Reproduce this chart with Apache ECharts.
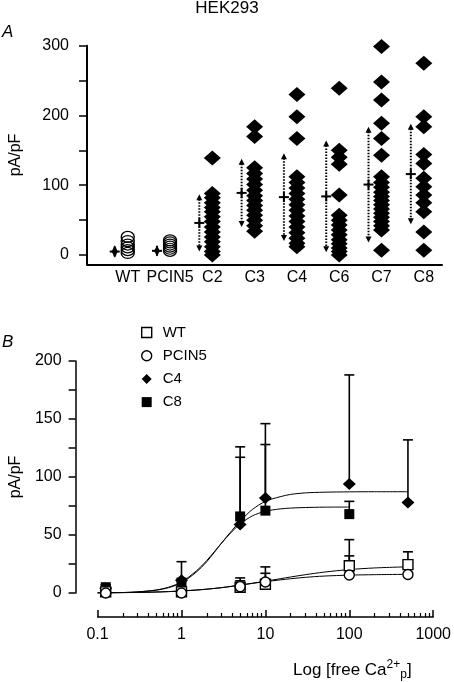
<!DOCTYPE html>
<html><head><meta charset="utf-8">
<script src="https://cdn.jsdelivr.net/npm/echarts@6/dist/echarts.min.js"></script>
<style>html,body{margin:0;padding:0;background:#fff}#c{width:454px;height:682px}</style>
</head><body><div id="c"></div>
<script>
// ---------- Panel A data ----------
const categories = ['WT','PCIN5','C2','C3','C4','C6','C7','C8'];
const valsWT    = [3, 7, 11, 15, 20, 26];
const valsPCIN5 = [6, 9, 12, 15, 18, 21];
const valsC2 = [139, 88, 82, 75, 68, 62, 55, 48, 40, 33, 26, 19, 12, 5, 0];
const valsC3 = [184, 170, 125, 117, 109, 101, 93, 85, 78, 71, 64, 57, 50, 42, 34];
const valsC4 = [230, 198, 167, 112, 104, 96, 88, 80, 72, 64, 56, 48, 40, 32, 24, 17, 12];
const valsC6 = [239, 150, 140, 130, 86, 57, 50, 43, 36, 29, 22, 16, 10, 5, 0];
const valsC7 = [299, 248, 222, 189, 167, 143, 112, 104, 97, 90, 84, 78, 72, 66, 60, 54, 48, 42, 36, 7];
const valsC8 = [275, 198, 184, 144, 131, 110, 98, 86, 75, 62, 33, 7];
const meanA = [5, 6, 46, 89, 83, 84, 101, 116];
const sdA   = [9, 8, 41, 49, 63, 80, 83, 72];
const yTicksA  = [0, 50, 100, 150, 200, 250, 300];
const yLabelsA = [0, 100, 200, 300];

// ---------- Panel B data ----------
const concB  = [0.125, 1, 5, 10, 100, 500];
const concC8 = [0.125, 1, 5, 10, 100];
const wtMean = [1, 1, 5, 7.5, 23.5, 24.5];
const wtErr  = [0, 0, 8, 15, 22.5, 11];
const pcMean = [0, 0, 5.5, 9.5, 15.5, 16];
const pcErr  = [0, 0, 5, 7.5, 16.5, 0];
const c4Mean = [4, 11, 59, 82, 94, 78];
const c4Err  = [3, 16, 67, 64, 94, 54];
const c8Mean = [5, 9, 66, 71, 68];
const c8Err  = [2, 0, 51, 57, 11];
// fitted curves
const fitX  = [0.1, 0.2, 0.3, 0.5, 0.7, 1, 1.5, 2, 3, 4, 5, 7, 10, 15, 20, 30, 50, 100, 200, 500];
const fitC4 = [0, 0.4, 0.9, 2.4, 4.6, 8.8, 18, 27, 43, 54, 62, 72, 79, 83, 85, 86.3, 86.9, 87.2, 87.3, 87.3];
const fitC8 = [0, 0.4, 1, 2.6, 5, 9.5, 19, 28, 43, 53, 59.5, 66.5, 70.5, 72.5, 73.2, 73.7, 74, 74.1];
const fitWT = [0, 0.3, 0.5, 0.9, 1.2, 1.8, 2.6, 3.3, 4.6, 5.8, 6.8, 8.4, 10.2, 12.3, 13.8, 15.8, 18, 20.2, 21.6, 22.6];
const fitPC = [0, 0.3, 0.5, 0.8, 1.2, 1.7, 2.5, 3.3, 4.6, 5.8, 6.8, 8.3, 9.8, 11.3, 12.3, 13.5, 14.6, 15.4, 15.8, 16.1];
const xMajorLabels = ['0.1', '1', '10', '100', '1000'];
const xMinorTicks = [0.2,0.3,0.4,0.5,0.6,0.7,0.8,0.9, 2,3,4,5,6,7,8,9, 20,30,40,50,60,70,80,90, 200,300,400,500,600,700,800,900];

const FONT = 'Liberation Sans, Arial, sans-serif';
const panelA = [valsWT, valsPCIN5, valsC2, valsC3, valsC4, valsC6, valsC7, valsC8];
const openPts = [], filledPts = [];
panelA.forEach((arr, i) => arr.forEach(v => (i < 2 ? openPts : filledPts).push([i, v])));
const meanData = meanA.map((m, i) => [i, m, sdA[i]]);

const zip = (xs, ys) => ys.map((y, i) => [xs[i], y]);
const zip3 = (xs, ys, es) => ys.map((y, i) => [xs[i], y, es[i]]);

function meanRender(params, api) {
  const i = api.value(0), m = api.value(1), s = api.value(2);
  const c = api.coord([i, m]), t = api.coord([i, m + s]), b = api.coord([i, m - s]);
  const x = c[0] - 13;
  return {type: 'group', children: [
    {type: 'line', shape: {x1: x, y1: t[1] + 5, x2: x, y2: b[1] - 5}, style: {stroke: '#000', lineWidth: 2, lineDash: [1.5, 1.5]}},
    {type: 'polygon', shape: {points: [[x, t[1]], [x - 3, t[1] + 6], [x + 3, t[1] + 6]]}, style: {fill: '#000'}},
    {type: 'polygon', shape: {points: [[x, b[1]], [x - 3, b[1] - 6], [x + 3, b[1] - 6]]}, style: {fill: '#000'}},
    {type: 'line', shape: {x1: x - 5, y1: c[1], x2: x + 5, y2: c[1]}, style: {stroke: '#000', lineWidth: 2}},
    {type: 'line', shape: {x1: x, y1: c[1] - 5, x2: x, y2: c[1] + 5}, style: {stroke: '#000', lineWidth: 2}}
  ]};
}
function errRender(params, api) {
  const e = api.value(2);
  if (!e) return null;
  const p = api.coord([api.value(0), api.value(1)]);
  const q = api.coord([api.value(0), api.value(1) + e]);
  return {type: 'group', children: [
    {type: 'line', shape: {x1: p[0], y1: p[1], x2: q[0], y2: q[1]}, style: {stroke: '#000', lineWidth: 1.6}},
    {type: 'line', shape: {x1: q[0] - 5, y1: q[1], x2: q[0] + 5, y2: q[1]}, style: {stroke: '#000', lineWidth: 1.6}}
  ]};
}
const openStyle = {color: '#fff', borderColor: '#000', borderWidth: 1.4, opacity: 1};
const fillStyle = {color: '#000', opacity: 1};
function fitSeries(name, xs, ys) {
  return {name, type: 'line', xAxisIndex: 1, yAxisIndex: 1, data: zip(xs, ys), smooth: 0.3,
    showSymbol: false, lineStyle: {color: '#000', width: 1}, z: 2, silent: true};
}
function errSeries(name, xs, ys, es) {
  return {name, type: 'custom', xAxisIndex: 1, yAxisIndex: 1, data: zip3(xs, ys, es), renderItem: errRender, z: 3, silent: true};
}
function ptSeries(name, xs, ys, symbol, size, style) {
  return {name, type: 'scatter', xAxisIndex: 1, yAxisIndex: 1, data: zip(xs, ys), symbol, symbolSize: size, itemStyle: style, z: 4};
}

const chart = echarts.init(document.getElementById('c'), null, {renderer: 'canvas'});
chart.setOption({
  animation: false,
  backgroundColor: '#fff',
  textStyle: {fontFamily: FONT, color: '#000'},
  grid: [
    {left: 81.7, top: 45.7, width: 360.3, height: 218.6},
    {left: 89, top: 361, width: 346, height: 232}
  ],
  xAxis: [
    {gridIndex: 0, type: 'value', min: -0.963, max: 7.43, position: 'bottom',
      axisLine: {onZero: false, lineStyle: {color: '#000', width: 2}}, axisTick: {show: false}, splitLine: {show: false},
      axisLabel: {customValues: [0,1,2,3,4,5,6,7], formatter: v => categories[v], color: '#000', fontSize: 16, fontFamily: FONT, margin: 5}},
    {gridIndex: 1, type: 'log', logBase: 10, min: 0.1, max: 1000, offset: 24, position: 'bottom',
      axisLine: {onZero: false, lineStyle: {color: '#000', width: 1.5}},
      axisTick: {show: true, inside: true, length: 7, lineStyle: {width: 1.5, color: '#000'}},
      splitLine: {show: false},
      axisLabel: {color: '#000', fontSize: 16, fontFamily: FONT, margin: 10,
        formatter: v => xMajorLabels[Math.round(Math.log10(v)) + 1]}},
    {gridIndex: 1, type: 'log', logBase: 10, min: 0.1, max: 1000, offset: 24, position: 'bottom',
      axisLine: {show: false, onZero: false},
      axisTick: {show: true, inside: true, length: 4, customValues: xMinorTicks, lineStyle: {width: 1.2, color: '#000'}},
      splitLine: {show: false}, axisLabel: {show: false}}
  ],
  yAxis: [
    {gridIndex: 0, type: 'value', min: -13.3, max: 300,
      axisLine: {show: true, onZero: false, lineStyle: {color: '#000', width: 2}},
      axisTick: {show: true, length: 8, customValues: yTicksA, lineStyle: {width: 1.5, color: '#000'}},
      axisLabel: {customValues: yLabelsA, color: '#000', fontSize: 16, fontFamily: FONT, margin: 18},
      splitLine: {show: false},
      name: 'pA/pF', nameLocation: 'middle', nameRotate: 90, nameGap: 63,
      nameTextStyle: {fontSize: 16, fontFamily: FONT, color: '#000'}},
    {gridIndex: 1, type: 'value', min: 0, max: 200, interval: 25, offset: 22,
      axisLine: {show: true, onZero: false, lineStyle: {color: '#000', width: 1.5}},
      axisTick: {show: true, length: 7, lineStyle: {width: 1.5, color: '#000'}},
      axisLabel: {formatter: v => (v % 50 === 0 ? String(v) : ''), color: '#000', fontSize: 16, fontFamily: FONT, margin: 14},
      splitLine: {show: false},
      name: 'pA/pF', nameLocation: 'middle', nameRotate: 90, nameGap: 49,
      nameTextStyle: {fontSize: 16, fontFamily: FONT, color: '#000'}}
  ],
  legend: {
    data: [
      {name: 'WT', icon: 'rect', itemStyle: {color: '#fff', borderColor: '#000', borderWidth: 1.4}},
      {name: 'PCIN5', icon: 'circle', itemStyle: {color: '#fff', borderColor: '#000', borderWidth: 1.4}},
      {name: 'C4', icon: 'diamond', itemStyle: {color: '#000'}},
      {name: 'C8', icon: 'rect', itemStyle: {color: '#000'}}
    ],
    orient: 'vertical', left: 141, top: 325, padding: 0, itemWidth: 10, itemHeight: 10, itemGap: 8.2,
    selectedMode: false,
    textStyle: {fontSize: 15, fontFamily: FONT, color: '#000', padding: [0, 0, 0, 6]}
  },
  graphic: [
    {type: 'text', x: 227, y: 8, style: {text: 'HEK293', fontSize: 17, fontFamily: FONT, fill: '#000', align: 'center', verticalAlign: 'middle'}},
    {type: 'text', x: 2, y: 32, style: {text: 'A', fontSize: 17, fontStyle: 'italic', fontFamily: FONT, fill: '#000', verticalAlign: 'middle'}},
    {type: 'text', x: 2, y: 342, style: {text: 'B', fontSize: 17, fontStyle: 'italic', fontFamily: FONT, fill: '#000', verticalAlign: 'middle'}},
    {type: 'text', x: 293, y: 670, style: {
      text: '{a|Log [free Ca}{sup|2+}{sub|p}{a|]}', verticalAlign: 'middle', fill: '#000',
      rich: {
        a: {fontSize: 17, fontFamily: FONT, lineHeight: 22, verticalAlign: 'middle'},
        sup: {fontSize: 12, fontFamily: FONT, lineHeight: 12, verticalAlign: 'top'},
        sub: {fontSize: 12, fontFamily: FONT, lineHeight: 12, verticalAlign: 'bottom'}
      }}}
  ],
  series: [
    {name: 'A open', type: 'scatter', xAxisIndex: 0, yAxisIndex: 0, data: openPts, symbol: 'circle', symbolSize: [13, 11],
      itemStyle: {color: 'rgba(255,255,255,0)', borderColor: '#000', borderWidth: 1.3, opacity: 1}},
    {name: 'A filled', type: 'scatter', xAxisIndex: 0, yAxisIndex: 0, data: filledPts, symbol: 'diamond', symbolSize: [17, 15],
      itemStyle: {color: '#000', opacity: 1}},
    {name: 'A mean', type: 'custom', xAxisIndex: 0, yAxisIndex: 0, data: meanData, renderItem: meanRender, silent: true},
    fitSeries('fit WT', fitX, fitWT),
    fitSeries('fit PCIN5', fitX, fitPC),
    fitSeries('fit C4', fitX, fitC4),
    fitSeries('fit C8', fitX, fitC8),
    errSeries('err WT', concB, wtMean, wtErr),
    errSeries('err PCIN5', concB, pcMean, pcErr),
    errSeries('err C4', concB, c4Mean, c4Err),
    errSeries('err C8', concC8, c8Mean, c8Err),
    ptSeries('C4', concB, c4Mean, 'diamond', [13, 12], fillStyle),
    ptSeries('C8', concC8, c8Mean, 'rect', [10, 10], fillStyle),
    ptSeries('WT', concB, wtMean, 'rect', [10, 10], openStyle),
    ptSeries('PCIN5', concB, pcMean, 'circle', [10, 10], openStyle)
  ]
});
</script></body></html>
